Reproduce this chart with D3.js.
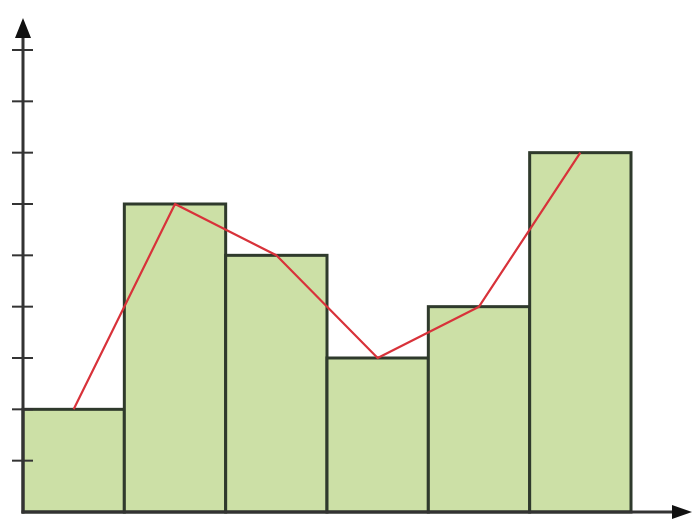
<!DOCTYPE html>
<html>
<head>
<meta charset="utf-8">
<script src="https://cdn.jsdelivr.net/npm/d3@7"></script>
<style>
  body { margin: 0; background: #fff; }
  svg { display: block; }
</style>
</head>
<body>
<div id="chart"></div>
<script>
// histogram classes and their frequencies
const classes = [0, 1, 2, 3, 4, 5];
const freqs = [2, 6, 5, 3, 4, 7];
// y-axis tick marks (no labels in the original)
const yTicks = [1, 2, 3, 4, 5, 6, 7, 8, 9];

const width = 692, height = 519;
const origin = {x: 23, y: 512};

const svg = d3.select("#chart").append("svg")
    .attr("width", width)
    .attr("height", height);

// scales
const x = d3.scaleLinear().domain([0, 6]).range([origin.x, 631]);
const y = d3.scaleLinear().domain([0, 9]).range([origin.y, 50]);

// bars
svg.selectAll(".bar")
    .data(classes)
    .enter().append("rect")
    .attr("class", "bar")
    .attr("x", d => x(d))
    .attr("y", (d, i) => y(freqs[i]))
    .attr("width", d => x(d + 1) - x(d))
    .attr("height", (d, i) => y(0) - y(freqs[i]))
    .attr("fill", "#cce0a6")
    .attr("stroke", "#2f3a2c")
    .attr("stroke-width", 3);

// frequency polygon through bar midpoints
const line = d3.line()
    .x((d, i) => x(d + 0.5))
    .y((d, i) => y(freqs[i]));

svg.append("path")
    .datum(classes)
    .attr("d", line)
    .attr("fill", "none")
    .attr("stroke", "#d8323a")
    .attr("stroke-width", 2.2)
    .attr("stroke-linejoin", "round");

// axes
const axisColor = "#333";

svg.append("line")
    .attr("x1", origin.x).attr("y1", origin.y + 1.5)
    .attr("x2", origin.x).attr("y2", 34)
    .attr("stroke", axisColor).attr("stroke-width", 3);

svg.append("line")
    .attr("x1", origin.x - 1.5).attr("y1", origin.y)
    .attr("x2", 676).attr("y2", origin.y)
    .attr("stroke", axisColor).attr("stroke-width", 3);

// arrow heads
svg.append("path")
    .attr("d", `M${origin.x},18 L${origin.x - 8},38 L${origin.x + 8},38 Z`)
    .attr("fill", "#111");

svg.append("path")
    .attr("d", `M692,${origin.y} L672,${origin.y - 7} L672,${origin.y + 7} Z`)
    .attr("fill", "#111");

// y tick marks crossing the axis
svg.selectAll(".tick")
    .data(yTicks)
    .enter().append("line")
    .attr("class", "tick")
    .attr("x1", origin.x - 11)
    .attr("x2", origin.x + 10)
    .attr("y1", d => y(d))
    .attr("y2", d => y(d))
    .attr("stroke", axisColor)
    .attr("stroke-width", 2);
</script>
</body>
</html>
